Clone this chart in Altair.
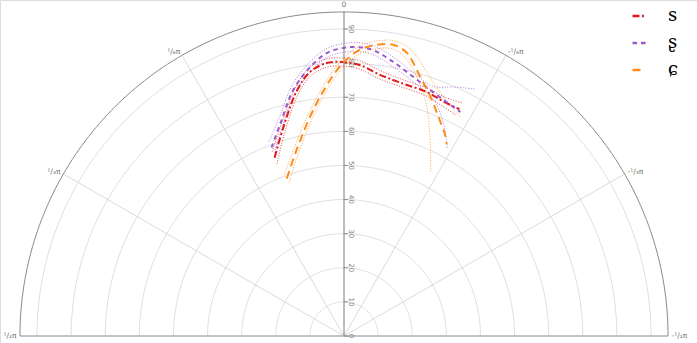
import altair as alt
import numpy as np
import pandas as pd

# ---------------- data ----------------
SERIES = ["s", "ʂ", "ɕ"]
COLORS = ["#e31a1c", "#9b59d0", "#ff8c1a"]
DASHES = [[7, 2.5, 2, 2.5], [4.5, 4], [8, 5]]

# s (red)
S_THETA = [0.371, 0.283, 0.189, 0.129, 0.063, 0.004, -0.058, -0.137, -0.217, -0.329, -0.398, -0.471]
S_MID = [56.1, 63.7, 73.3, 78.0, 80.2, 80.3, 79.6, 77.3, 76.1, 75.5, 74.7, 74.6]
S_HI = [58.0, 65.2, 74.6, 79.3, 81.4, 81.5, 80.8, 78.5, 77.2, 76.6, 76.0, 76.6]
S_LO = [54.2, 62.2, 72.0, 76.8, 79.0, 79.1, 78.4, 76.1, 75.0, 74.4, 73.4, 72.6]

# ʂ (purple)
R_THETA = [0.367, 0.291, 0.205, 0.126, 0.061, 0.005, -0.044, -0.100, -0.176, -0.259, -0.350, -0.479]
R_MID = [59.2, 65.0, 73.5, 79.4, 83.1, 84.4, 84.8, 84.3, 81.7, 78.7, 76.1, 74.0]
R_HI_THETA = [0.370, 0.291, 0.205, 0.126, 0.061, 0.005, -0.044, -0.100, -0.176, -0.259, -0.343, -0.413, -0.488]
R_HI = [61.0, 66.5, 75.0, 80.8, 84.4, 85.7, 86.1, 85.6, 83.0, 79.8, 77.7, 79.7, 82.0]
R_LO_THETA = [0.363, 0.291, 0.205, 0.126, 0.061, 0.005, -0.044, -0.100, -0.176, -0.259, -0.350, -0.385, -0.442, -0.505]
R_LO = [57.5, 63.5, 72.0, 78.0, 81.8, 83.1, 83.5, 83.0, 80.4, 77.4, 74.6, 72.7, 68.5, 62.6]

# ɕ (orange)
C_THETA = [0.349, 0.277, 0.222, 0.136, 0.055, 0.004, -0.055, -0.112, -0.166, -0.217, -0.285, -0.345, -0.405, -0.470, -0.491]
C_MID = [49.1, 54.1, 58.6, 66.8, 75.1, 80.0, 84.0, 85.9, 86.6, 85.1, 79.3, 74.7, 70.1, 65.7, 63.8]
C_HI_THETA = [0.353, 0.277, 0.222, 0.136, 0.055, 0.004, -0.055, -0.112, -0.166, -0.217, -0.254, -0.338, -0.416, -0.488]
C_HI = [50.6, 55.6, 60.1, 68.2, 76.4, 81.3, 85.2, 87.1, 87.8, 86.8, 84.7, 78.8, 74.9, 72.7]
C_LO_THETA = [0.345, 0.277, 0.222, 0.136, 0.055, 0.004, -0.055, -0.112, -0.166, -0.217, -0.288, -0.352, -0.434, -0.487]
C_LO = [47.6, 52.6, 57.1, 65.4, 73.8, 78.7, 82.8, 84.7, 85.4, 83.6, 77.5, 70.8, 60.3, 54.3]

GRID_R = [10, 20, 30, 40, 50, 60, 70, 80, 90]
OUTER_R = 95
SPOKE_DEG = [-60, -30, 30, 60]
BASE_DEG = [-90, 90]
RADIAL_TICKS = [0, 10, 20, 30, 40, 50, 60, 70, 80, 90]
LEFT_LABELS = [(30, "¹/₆π"), (60, "¹/₃π"), (90, "¹/₂π")]
RIGHT_LABELS = [(-30, "-¹/₆π"), (-60, "-¹/₃π"), (-90, "-¹/₂π")]
TOP_LABELS = [(0, "0")]

# ---------------- tables ----------------
rows = []
def add(series, part, thetas, rs):
    for i, (t, r) in enumerate(zip(thetas, rs)):
        rows.append(dict(series=series, part=part, idx=i, theta=t, r=r))

add("s", "mid", S_THETA, S_MID)
add("s", "hi", S_THETA, S_HI)
add("s", "lo", S_THETA, S_LO)
add("ʂ", "mid", R_THETA, R_MID)
add("ʂ", "hi", R_HI_THETA, R_HI)
add("ʂ", "lo", R_LO_THETA, R_LO)
add("ɕ", "mid", C_THETA, C_MID)
add("ɕ", "hi", C_HI_THETA, C_HI)
add("ɕ", "lo", C_LO_THETA, C_LO)
curves = pd.DataFrame(rows)

arc_deg = np.arange(-90, 90.5, 1.0)
grid_df = pd.DataFrame([{"r": r, "deg": d, "i": j} for r in GRID_R for j, d in enumerate(arc_deg)])
outer_df = pd.DataFrame([{"r": OUTER_R, "deg": d, "i": j} for j, d in enumerate(arc_deg)])
spoke_df = pd.DataFrame([{"deg": a, "r": rr, "i": k} for a in SPOKE_DEG for k, rr in enumerate([0, OUTER_R])])
base_df = pd.DataFrame([{"deg": a, "r": rr, "i": k} for a in BASE_DEG for k, rr in enumerate([0, OUTER_R])])
axis_df = pd.DataFrame([{"deg": 0, "r": rr, "i": k} for k, rr in enumerate([0, OUTER_R])])
tick_df = pd.DataFrame({"r": RADIAL_TICKS, "label": [str(v) for v in RADIAL_TICKS]})
left_df = pd.DataFrame([{"deg": a, "label": t} for a, t in LEFT_LABELS])
right_df = pd.DataFrame([{"deg": a, "label": t} for a, t in RIGHT_LABELS])
top_df = pd.DataFrame([{"deg": a, "label": t} for a, t in TOP_LABELS])

# ---------------- scales ----------------
K = 3.411  # pixels per radial unit
XS = alt.Scale(domain=[-344 / K, 353 / K], nice=False, zero=False)
YS = alt.Scale(domain=[-7 / K, 336 / K], nice=False, zero=False)
X = alt.X("px:Q", scale=XS, axis=None)
Y = alt.Y("py:Q", scale=YS, axis=None)

deg_calc = dict(px="-datum.r*sin(datum.deg*PI/180)", py="datum.r*cos(datum.deg*PI/180)")
rad_calc = dict(px="-datum.r*sin(datum.theta)", py="datum.r*cos(datum.theta)")

grid = alt.Chart(grid_df).transform_calculate(**deg_calc).mark_line(
    stroke="#d6d6d6", strokeWidth=0.8
).encode(x=X, y=Y, detail="r:N", order="i:Q")

outer = alt.Chart(outer_df).transform_calculate(**deg_calc).mark_line(
    stroke="#8a8a8a", strokeWidth=1
).encode(x=X, y=Y, order="i:Q")

spokes = alt.Chart(spoke_df).transform_calculate(**deg_calc).mark_line(
    stroke="#d0d0d0", strokeWidth=0.8
).encode(x=X, y=Y, detail="deg:N", order="i:Q")

base = alt.Chart(base_df).transform_calculate(**deg_calc).mark_line(
    stroke="#c4c4c4", strokeWidth=1.8
).encode(x=X, y=Y, detail="deg:N", order="i:Q")

vaxis = alt.Chart(axis_df).transform_calculate(**deg_calc).mark_line(
    stroke="#7a7a7a", strokeWidth=1
).encode(x=X, y=Y, order="i:Q")

ticks = alt.Chart(tick_df).transform_calculate(
    px="0", px2="1.2", py="datum.r"
).mark_rule(stroke="#7a7a7a", strokeWidth=0.8).encode(
    x=X, x2="px2:Q", y=Y
)

tick_labels = alt.Chart(tick_df).transform_calculate(
    px="0", py="datum.r"
).mark_text(
    angle=90, fontSize=7, font="DejaVu Sans", color="#808080", align="center", baseline="middle"
).encode(x=X, y=Y, text="label:N", xOffset=alt.value(7))

LABEL_R = 96
lab_calc = dict(px=f"-{LABEL_R}*sin(datum.deg*PI/180)", py=f"{LABEL_R}*cos(datum.deg*PI/180)")
left_labels = alt.Chart(left_df).transform_calculate(**lab_calc).mark_text(
    fontSize=7.5, font="DejaVu Sans", color="#707070", align="right", baseline="middle"
).encode(x=X, y=Y, text="label:N")
right_labels = alt.Chart(right_df).transform_calculate(**lab_calc).mark_text(
    fontSize=7.5, font="DejaVu Sans", color="#707070", align="left", baseline="middle"
).encode(x=X, y=Y, text="label:N")
top_labels = alt.Chart(top_df).transform_calculate(**lab_calc).mark_text(
    fontSize=7.5, font="DejaVu Sans", color="#707070", align="center", baseline="bottom"
).encode(x=X, y=Y, text="label:N")

CS = alt.Scale(domain=SERIES, range=COLORS)
DS = alt.Scale(domain=SERIES, range=DASHES)
LEG = alt.Legend(
    title=None, orient="none", legendX=630, legendY=7, padding=0,
    symbolType="stroke", symbolSize=169, symbolStrokeWidth=2.5,
    labelFont="DejaVu Serif", labelFontSize=18, labelColor="black",
    labelOffset=20, rowPadding=9,
)

band_layers = []
for name, col in zip(SERIES, COLORS):
    band_layers.append(
        alt.Chart(curves).transform_filter(
            f"datum.part != 'mid' && datum.series == '{name}'"
        ).transform_calculate(**rad_calc).mark_line(
            stroke=col, strokeDash=[1, 1.6], strokeWidth=0.8, interpolate="catmull-rom"
        ).encode(x=X, y=Y, detail="part:N", order="idx:Q")
    )

mids = alt.Chart(curves).transform_filter("datum.part == 'mid'").transform_calculate(**rad_calc).mark_line(
    strokeWidth=2, interpolate="catmull-rom"
).encode(
    x=X, y=Y,
    color=alt.Color("series:N", scale=CS, legend=LEG),
    strokeDash=alt.StrokeDash("series:N", scale=DS, legend=LEG),
    order="idx:Q",
)

chart = alt.layer(
    grid, spokes, base, outer, vaxis, ticks, tick_labels,
    left_labels, right_labels, top_labels, *band_layers, mids
).properties(
    width=697, height=343, padding=0, autosize=alt.AutoSizeParams(type="none")
).configure_view(stroke=None).configure(background="white")

chart.save("out.html", embed_options={"renderer": "svg", "actions": False})
